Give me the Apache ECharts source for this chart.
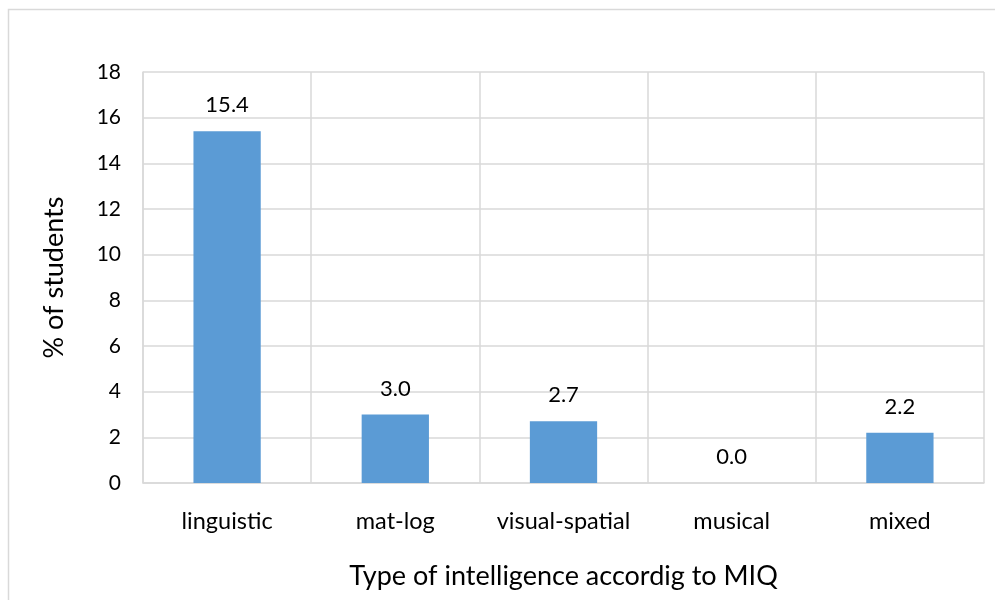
<!DOCTYPE html>
<html>
<head>
<meta charset="utf-8">
<script src="https://cdn.jsdelivr.net/npm/echarts@6/dist/echarts.min.js"></script>
<style>html,body{margin:0;padding:0;background:#fff}#c{width:995px;height:600px}</style>
</head>
<body>
<div id="c"></div>
<script>
var categories = ['linguistic', 'mat-log', 'visual-spatial', 'musical', 'mixed'];
var values = [15.4, 3.0, 2.7, 0.0, 2.2];
var yTicks = [0, 2, 4, 6, 8, 10, 12, 14, 16, 18];

var chart = echarts.init(document.getElementById('c'), null, {renderer: 'canvas'});
var font = 'Lato, "Open Sans", sans-serif';
chart.setOption({
  animation: false,
  textStyle: {fontFamily: font},
  graphic: [{
    type: 'rect', shape: {x: 8.5, y: 9.5, width: 1000, height: 600},
    style: {fill: 'none', stroke: '#d9d9d9', lineWidth: 1.5}
  }],
  grid: {left: 143, right: 11, top: 72, bottom: 117},
  xAxis: {
    type: 'category', data: categories,
    name: 'Type of intelligence accordig to MIQ',
    nameLocation: 'middle', nameGap: 80,
    nameTextStyle: {fontSize: 27, color: '#000', fontFamily: font, verticalAlign: 'top'},
    axisLine: {show: true, lineStyle: {color: '#d9d9d9', width: 1.5}},
    axisTick: {show: false},
    axisLabel: {interval: 0, fontSize: 23.5, color: '#000', margin: 26, fontFamily: font},
    splitLine: {show: true, interval: 0, lineStyle: {color: '#d9d9d9', width: 1.5}}
  },
  yAxis: {
    type: 'value', min: 0, max: 18, interval: 2,
    name: '% of students', nameLocation: 'middle', nameGap: 75,
    nameTextStyle: {fontSize: 27, color: '#000', fontFamily: font},
    axisLine: {show: true, lineStyle: {color: '#d9d9d9', width: 1.5}},
    axisTick: {show: false},
    axisLabel: {fontSize: 21, color: '#000', margin: 22, fontFamily: font,
      formatter: function (v) { return yTicks.indexOf(v) >= 0 ? String(v) : ''; }},
    splitLine: {show: true, lineStyle: {color: '#d9d9d9', width: 1.5}}
  },
  series: [{
    type: 'bar', data: values, barWidth: '40%',
    itemStyle: {color: '#5b9bd5'},
    label: {show: true, position: 'top', distance: 15, fontSize: 22, color: '#000', fontFamily: font,
      formatter: function (p) { return p.value.toFixed(1); }}
  }]
});
</script>
</body>
</html>
